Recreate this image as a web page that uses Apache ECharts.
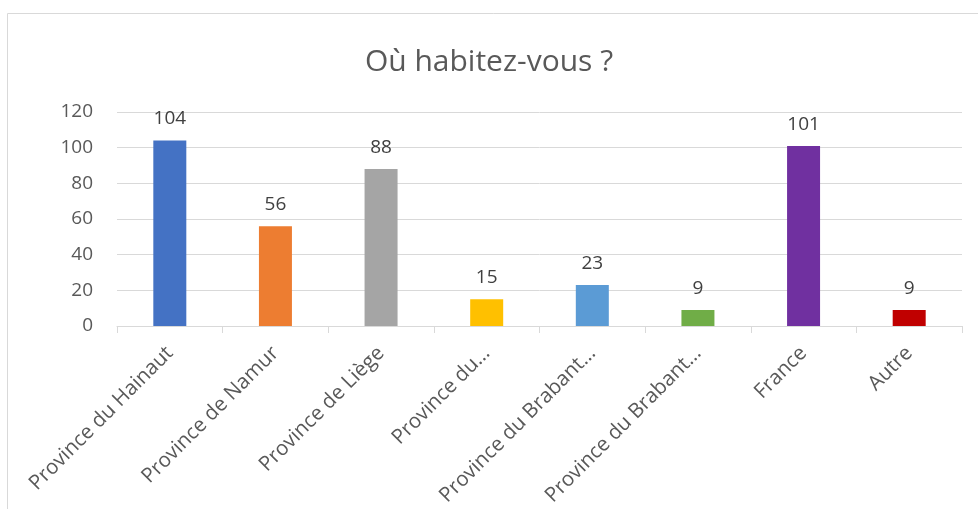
<!DOCTYPE html>
<html>
<head>
<meta charset="utf-8">
<script src="https://cdn.jsdelivr.net/npm/echarts@6/dist/echarts.min.js"></script>
<style>
  html, body { margin: 0; padding: 0; background: #fff; }
  #container { width: 978px; height: 509px; }
</style>
</head>
<body>
<div id="container"></div>
<script>
// données
var categories = ['Province du Hainaut', 'Province de Namur', 'Province de Liège', 'Province du…',
   'Province du Brabant…', 'Province du Brabant…', 'France', 'Autre'];
var values = [104, 56, 88, 15, 23, 9, 101, 9];
var barColors = ['#4472C4', '#ED7D31', '#A5A5A5', '#FFC000', '#5B9BD5', '#70AD47', '#7030A0', '#C00000'];
var yTicks = [0, 20, 40, 60, 80, 100, 120];

var dom = document.getElementById('container');
var myChart = echarts.init(dom, null, { renderer: 'canvas' });

var option = {
   animation: false,
   textStyle: { fontFamily: 'Open Sans' },
   title: {
      text: 'Où habitez-vous ?',
      left: 'center',
      top: 42,
      textStyle: { fontSize: 30, fontWeight: 'normal', color: '#595959', fontFamily: 'Open Sans' }
   },
   graphic: [{
      type: 'rect',
      shape: { x: 7.5, y: 13.5, width: 1100, height: 700 },
      style: { fill: 'none', stroke: '#d9d9d9', lineWidth: 1 },
      silent: true
   }],
   grid: { left: 117, right: 16, top: 112, bottom: 183 },
   xAxis: {
      type: 'category',
      data: categories,
      axisLine: { lineStyle: { color: '#d9d9d9', width: 1 } },
      axisTick: { show: true, length: 7, lineStyle: { color: '#d9d9d9' } },
      axisLabel: { rotate: 45, interval: 0, fontSize: 20.5, color: '#595959', margin: 24 }
   },
   yAxis: {
      type: 'value',
      min: yTicks[0],
      max: yTicks[yTicks.length - 1],
      interval: 20,
      axisLine: { show: false },
      axisTick: { show: false },
      splitLine: { lineStyle: { color: '#d9d9d9', width: 1 } },
      axisLabel: { fontSize: 19, color: '#595959', margin: 24 }
   },
   series: [{
      type: 'bar',
      barWidth: 33,
      data: values.map(function (v, i) {
         return { value: v, itemStyle: { color: barColors[i] } };
      }),
      label: { show: true, position: 'top', distance: 12, fontSize: 19, color: '#404040' }
   }]
};

myChart.setOption(option);
window.addEventListener('resize', myChart.resize);
</script>
</body>
</html>
